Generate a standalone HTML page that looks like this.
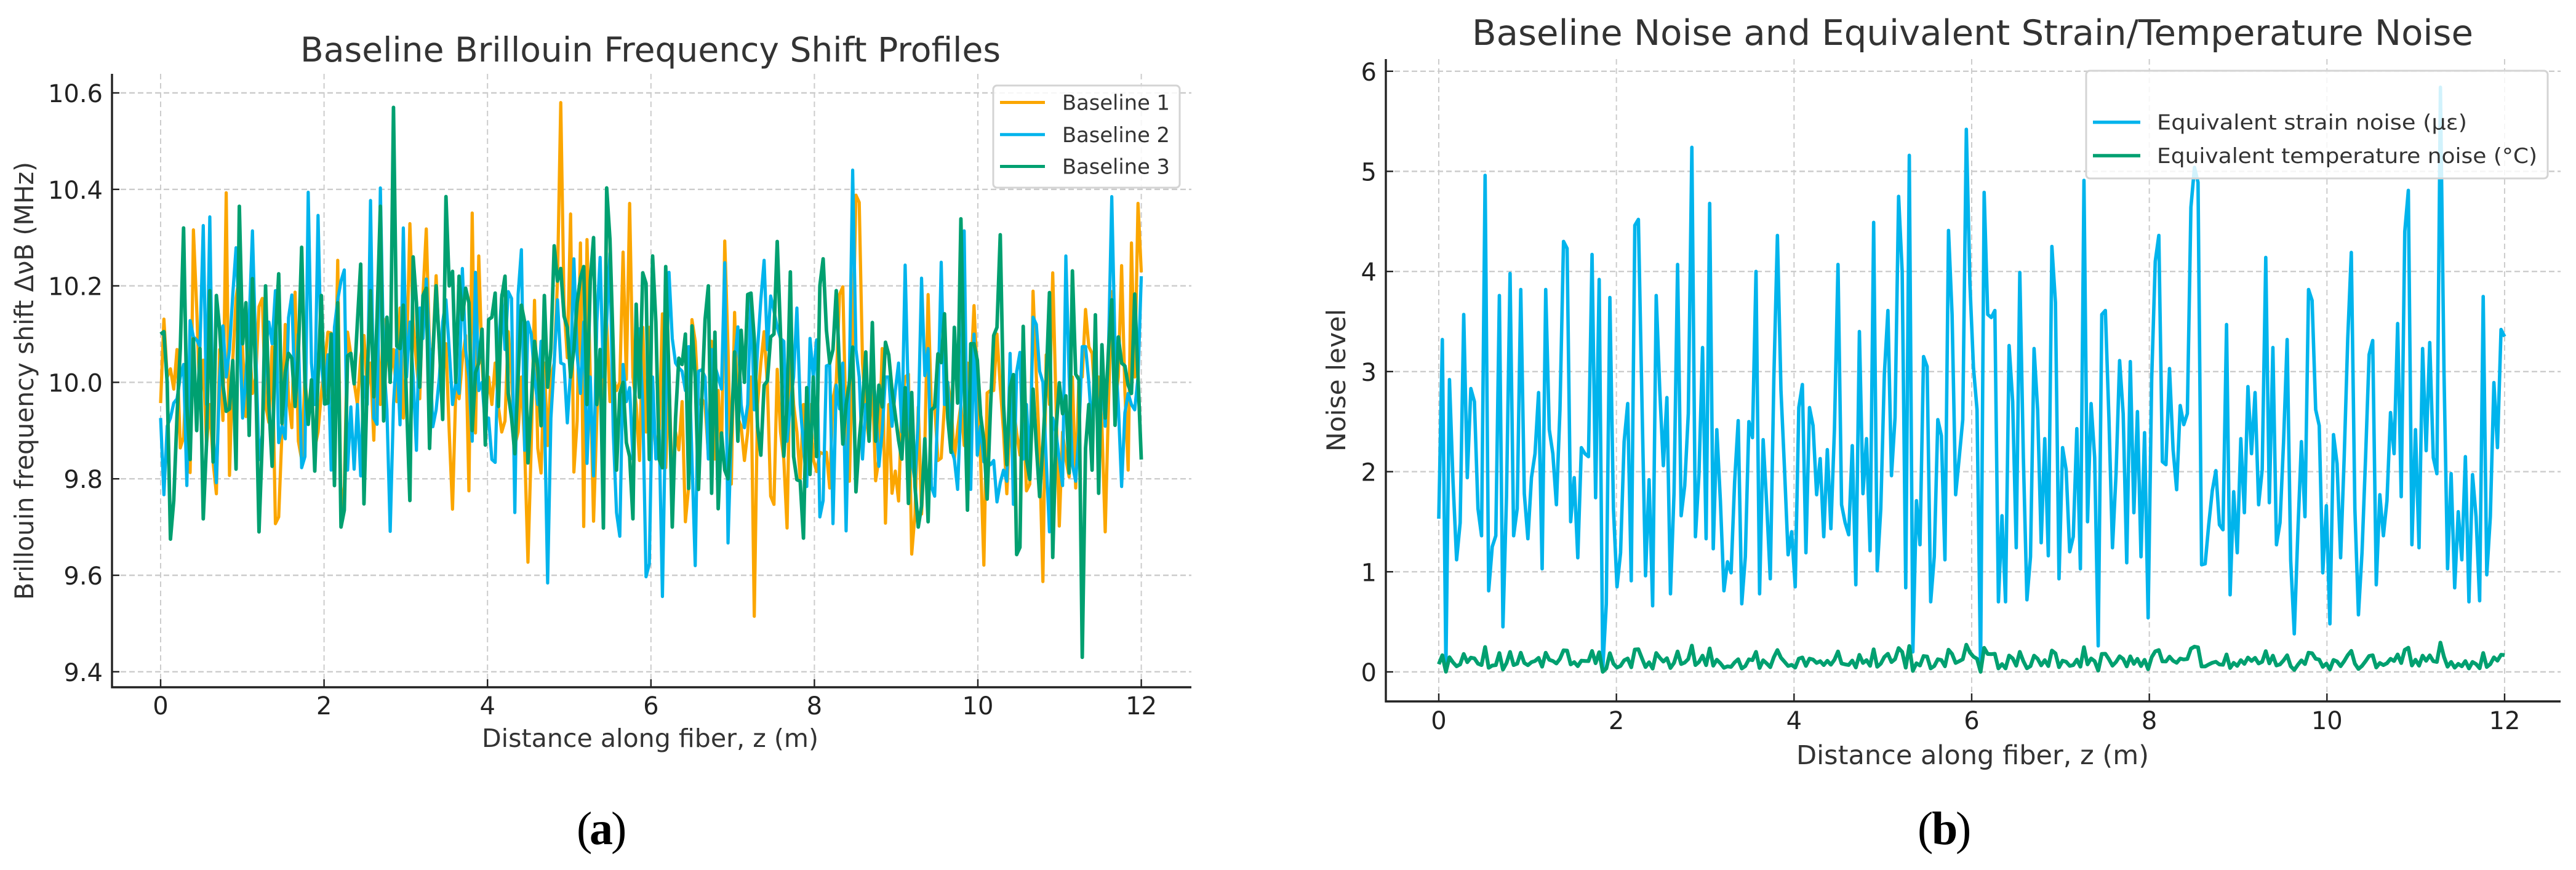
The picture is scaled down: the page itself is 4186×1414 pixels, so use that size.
<!DOCTYPE html>
<html>
<head>
<meta charset="utf-8">
<title>Baseline Brillouin Frequency Shift and Noise</title>
<style>
html,body{margin:0;padding:0;background:#fff;width:4186px;height:1414px;overflow:hidden}
svg{display:block;font-family:"DejaVu Sans","Liberation Sans",sans-serif}
</style>
</head>
<body>
<svg id="fig" xmlns="http://www.w3.org/2000/svg" width="4186" height="1414" viewBox="0 0 4186 1414"></svg>
<script>
const xTickValues = [0,2,4,6,8,10,12];
const xTickLabels = ["0","2","4","6","8","10","12"];
const yTickValuesA = [9.4,9.6,9.8,10.0,10.2,10.4,10.6];
const yTickLabelsA = ["9.4","9.6","9.8","10.0","10.2","10.4","10.6"];
const yTickValuesB = [0,1,2,3,4,5,6];
const yTickLabelsB = ["0","1","2","3","4","5","6"];
const distanceStart = 0;
const distanceEnd = 12;

const baseline1 = [
9.957,10.131,10.011,10.028,9.986,10.068,9.864,9.886,10.04,9.813,
10.316,10.154,9.954,10.046,9.869,9.954,9.835,9.769,10.068,9.921,
10.393,9.807,10.046,10.174,10.222,10.068,9.929,10.091,9.977,10.011,
10.157,10.174,9.954,9.917,10.074,9.707,9.721,9.897,10.12,9.966,
9.906,10.187,9.878,9.84,10.011,9.926,9.983,9.864,9.897,9.977,
10.04,10.104,10.102,9.897,10.253,9.727,9.784,10.104,10.057,10.0,
9.954,10.051,10.097,9.983,10.04,9.88,10.137,9.954,10.131,10.068,
10.011,10.068,9.96,10.154,9.926,10.046,10.329,10.125,10.04,9.966,
10.182,10.318,10.068,10.068,10.221,10.068,10.04,10.08,9.897,9.737,
9.986,9.966,10.046,10.097,9.775,10.351,9.895,10.262,10.04,9.926,
10.011,9.954,10.04,9.949,9.897,9.92,10.105,10.011,9.869,9.897,
10.011,9.863,9.627,9.869,10.17,9.863,9.812,10.04,9.869,10.011,
10.04,10.21,10.58,10.16,10.051,10.349,9.814,9.92,10.289,9.701,
10.296,10.011,9.712,9.926,10.068,9.954,10.125,9.96,10.011,9.983,
10.0,10.27,10.006,10.371,10.011,9.954,9.838,10.114,9.897,10.114,
9.926,9.86,9.9,10.142,9.823,10.011,9.784,9.897,9.86,9.96,
9.711,9.784,10.13,10.085,9.954,9.966,9.954,9.849,10.085,9.841,
9.983,9.841,10.293,10.068,9.789,10.145,9.926,9.909,9.838,9.897,
10.011,9.515,9.954,10.04,10.105,9.994,9.764,9.747,10.027,9.897,
9.841,9.698,10.068,9.954,9.897,9.8,9.954,9.841,9.954,9.841,
9.815,9.855,9.852,9.855,9.781,9.966,10.0,10.182,10.198,9.897,
9.795,10.068,10.388,10.373,10.04,9.935,9.878,10.011,9.796,9.841,
10.07,9.708,9.954,9.77,9.816,9.754,9.954,10.011,10.017,9.644,
9.727,9.949,9.727,9.869,10.182,9.943,9.954,9.838,9.843,9.954,
10.0,9.954,9.841,9.903,9.954,9.869,10.04,10.011,10.159,10.011,
9.841,9.621,9.978,9.983,9.983,10.1,9.992,9.897,9.769,9.926,
9.954,9.895,9.849,9.954,9.775,9.789,10.189,10.011,9.852,9.587,
10.057,9.954,10.227,9.954,9.702,9.897,9.841,9.804,10.011,9.781,
10.011,10.011,10.151,10.074,10.06,9.954,10.011,9.909,9.69,9.954,
10.188,9.954,10.011,10.242,9.983,9.818,10.289,10.011,10.371,10.228];

const baseline2 = [
9.926,9.767,9.909,9.926,9.957,9.966,10.011,10.037,9.786,10.128,
10.094,10.088,10.074,10.325,9.954,10.343,9.897,9.792,10.011,10.117,
10.011,10.068,10.182,10.279,10.125,9.926,10.011,10.125,10.314,10.068,
9.84,9.892,10.068,10.125,10.08,10.19,9.875,9.909,9.883,10.134,
10.181,9.954,10.10,9.823,9.846,10.394,10.04,9.954,10.346,10.04,
9.966,10.057,9.818,10.114,10.171,10.21,10.233,9.818,9.949,9.82,
9.954,9.806,10.011,9.954,10.377,9.926,9.913,10.403,10.046,9.943,
9.691,9.954,10.068,9.912,10.32,10.011,10.125,10.011,9.859,10.154,
10.091,10.214,10.068,9.908,9.943,10.011,10.125,10.171,10.068,9.954,
10.0,9.977,10.236,10.068,10.011,9.878,10.228,9.983,10.0,9.909,
9.926,9.84,9.834,10.068,10.182,10.068,10.188,10.174,9.73,10.182,
10.275,9.859,10.125,10.10,10.011,9.954,10.085,9.954,9.584,9.926,
10.04,10.171,10.04,10.037,9.916,10.023,10.256,10.057,9.977,10.125,
9.832,10.011,9.806,10.125,10.259,10.011,10.125,10.268,9.897,9.73,
9.681,10.037,9.96,9.989,9.841,10.04,10.111,9.954,9.597,9.624,
10.011,9.841,9.9,9.556,9.95,10.228,10.091,10.04,10.03,10.023,
9.983,10.074,9.841,9.62,10.023,10.026,10.011,9.841,10.068,10.034,
10.011,9.986,10.248,9.667,9.897,10.04,10.115,9.954,9.906,9.954,
10.185,9.943,10.068,10.171,10.253,10.068,10.179,10.148,10.114,10.091,
10.085,9.878,9.954,10.011,10.154,9.954,9.869,9.784,10.091,10.011,
10.088,9.721,9.755,10.034,10.037,9.707,9.994,9.945,10.04,9.692,
10.011,10.44,10.068,10.011,9.841,9.954,9.926,10.04,9.954,9.826,
9.897,10.011,10.011,9.909,9.983,10.04,9.897,10.243,9.954,9.841,
9.795,9.92,10.216,10.014,10.07,9.784,9.764,9.954,10.249,9.954,
10.0,9.863,9.841,9.778,9.954,10.314,9.806,9.778,10.1,9.849,
9.909,9.835,9.841,9.829,9.838,9.752,9.792,9.818,9.795,10.06,
9.747,10.022,10.062,9.841,9.954,9.812,10.135,10.12,10.023,10.0,
9.841,9.69,9.926,9.897,9.841,9.786,10.262,10.011,9.829,9.795,
9.897,10.074,10.074,10.0,9.897,10.011,9.909,10.011,9.909,10.068,
10.385,10.068,9.954,9.784,9.937,9.977,9.954,9.943,10.011,10.22];

const baseline3 = [
10.10,10.105,10.0,9.675,9.755,9.93,10.07,10.32,9.95,9.84,
10.09,9.9,10.07,9.717,9.875,10.19,9.835,10.18,10.11,9.995,
9.94,9.945,10.045,9.82,10.365,10.08,10.165,9.89,10.215,10.01,
9.69,9.88,10.2,9.955,9.826,10.09,10.225,9.915,10.02,10.06,
10.05,9.95,10.06,10.28,10.0,9.913,10.005,9.816,10.01,10.18,
9.955,9.957,10.1,9.786,10.165,9.7,9.735,10.055,10.06,9.997,
10.125,10.245,9.748,10.01,10.19,9.97,10.135,10.365,9.92,10.135,
10.0,10.57,10.075,10.07,10.16,9.955,9.755,10.26,10.165,9.99,
10.18,10.195,9.863,10.055,10.2,10.075,9.923,10.385,10.2,10.23,
10.0,10.22,10.13,10.195,10.165,9.9,10.02,10.04,10.11,9.87,
10.13,10.135,10.185,9.95,10.175,10.22,9.977,9.926,9.852,10.01,
10.16,10.125,9.833,9.955,10.085,10.03,9.91,10.18,9.99,10.07,
10.283,10.21,10.236,10.137,10.114,10.011,10.068,10.165,10.216,10.24,
9.954,10.21,10.30,9.954,10.068,9.698,10.403,10.296,10.068,9.818,
9.977,10.0,9.875,9.846,9.717,10.162,9.969,10.227,10.205,9.84,
10.262,10.125,9.84,9.823,10.24,10.01,9.70,9.926,10.05,10.037,
10.10,9.78,10.117,10.01,9.778,9.966,10.13,10.20,9.77,10.104,
9.738,9.895,9.818,9.80,9.897,10.063,9.878,10.108,10.0,10.182,
10.185,10.09,9.909,9.849,9.994,10.003,10.094,10.10,10.292,10.10,
9.847,9.954,10.229,9.846,9.798,9.795,9.677,9.989,9.809,10.011,
9.846,10.2,10.256,10.108,10.04,10.068,10.19,10.023,9.872,9.954,
10.0,10.073,9.773,9.88,9.954,10.063,9.878,10.124,9.878,9.994,
9.949,10.083,10.057,9.983,9.932,9.88,9.841,9.989,9.749,9.979,
9.784,9.70,9.744,9.883,9.711,9.943,9.949,10.059,10.041,10.142,
9.926,9.855,10.114,9.957,10.339,10.011,9.735,10.08,10.08,10.046,
9.932,9.88,9.758,9.943,10.097,10.114,10.306,9.954,9.829,9.989,
10.016,9.643,9.658,10.116,9.841,9.799,9.986,9.869,9.763,9.869,
10.0,10.186,9.637,9.897,9.999,9.935,9.972,9.812,10.231,10.017,
10.005,9.43,9.863,9.954,9.818,10.14,9.77,10.078,9.926,10.068,
10.171,9.911,10.094,10.04,10.034,9.994,9.977,10.183,10.011,9.84];

const strainNoise = [
1.53,3.32,0.04,2.92,1.9,1.12,1.49,3.57,1.94,2.83,
2.7,1.63,1.36,4.96,0.81,1.25,1.36,3.76,0.45,1.75,
3.98,1.36,1.63,3.82,1.78,1.33,1.94,2.18,2.79,1.03,
3.82,2.42,2.18,1.67,2.62,4.3,4.23,1.5,1.94,1.14,
2.24,2.18,2.15,4.17,1.74,3.92,0.02,0.68,3.74,1.63,
0.85,1.19,2.3,2.68,0.91,4.46,4.52,2.7,0.96,1.92,
0.66,3.76,2.81,2.06,2.74,0.78,1.79,4.07,1.56,1.86,
2.58,5.24,1.35,1.98,3.24,1.33,4.68,1.23,2.42,1.71,
0.81,1.10,0.99,1.9,2.51,0.68,1.15,2.5,2.34,4.0,
0.78,2.32,1.67,0.93,2.93,4.36,2.81,2.02,1.17,1.4,
0.85,2.64,2.87,1.19,2.64,2.46,1.77,2.13,1.35,2.22,
1.43,2.42,4.07,1.67,1.49,1.37,2.26,0.87,3.4,1.78,
2.33,1.21,4.49,1.01,1.63,2.97,3.61,1.96,2.54,4.75,
4.0,0.84,5.16,0.2,1.71,1.27,3.15,3.05,0.7,1.15,
2.52,2.36,1.12,4.41,3.57,1.77,2.14,2.52,5.42,3.88,
3.04,2.62,0.02,4.79,3.57,3.54,3.61,0.7,1.56,0.7,
3.26,2.7,1.24,3.99,2.14,0.72,1.15,3.23,2.62,1.29,
2.33,1.16,4.25,3.69,0.93,2.24,2.02,1.2,1.35,2.43,
1.03,4.91,1.5,2.68,2.14,0.26,3.57,3.61,2.54,1.24,
1.98,3.11,2.58,1.09,3.1,1.59,2.6,1.15,2.39,0.54,
2.93,4.1,4.36,2.1,2.07,3.03,2.22,1.82,2.66,2.47,
2.58,4.64,5.04,4.89,1.07,1.08,1.47,1.81,2.01,1.47,
1.42,3.47,0.77,1.8,1.19,2.33,1.59,2.85,2.18,2.79,
1.67,2.02,4.14,1.69,3.24,1.27,1.49,2.3,3.32,1.11,
0.38,1.39,2.3,1.55,3.82,3.71,2.62,2.46,0.99,1.66,
0.48,2.37,2.08,1.14,2.14,3.33,4.19,1.63,0.57,1.19,
2.14,3.17,3.31,0.87,1.77,1.36,1.71,2.59,2.18,3.48,
1.75,4.4,4.81,1.27,2.42,1.24,3.23,2.21,3.29,2.14,
1.98,5.84,3.0,1.03,1.98,0.84,1.6,1.12,2.15,0.7,
1.97,1.55,0.71,3.75,0.97,1.55,2.89,2.24,3.42,3.35];

const temperatureNoise = [
0.077,0.166,0.002,0.146,0.095,0.056,0.075,0.179,0.097,0.142,
0.135,0.082,0.068,0.248,0.041,0.063,0.068,0.188,0.023,0.088,
0.199,0.068,0.082,0.191,0.089,0.067,0.097,0.109,0.14,0.052,
0.191,0.121,0.109,0.084,0.131,0.215,0.212,0.075,0.097,0.057,
0.112,0.109,0.108,0.209,0.087,0.196,0.001,0.034,0.187,0.082,
0.043,0.06,0.115,0.134,0.046,0.223,0.226,0.135,0.048,0.096,
0.033,0.188,0.141,0.103,0.137,0.039,0.09,0.204,0.078,0.093,
0.129,0.262,0.068,0.099,0.162,0.067,0.234,0.062,0.121,0.086,
0.041,0.055,0.05,0.095,0.126,0.034,0.058,0.125,0.117,0.2,
0.039,0.116,0.084,0.047,0.147,0.218,0.141,0.101,0.059,0.07,
0.043,0.132,0.144,0.06,0.132,0.123,0.089,0.107,0.068,0.111,
0.072,0.121,0.204,0.084,0.075,0.069,0.113,0.044,0.17,0.089,
0.117,0.061,0.225,0.051,0.082,0.149,0.181,0.098,0.127,0.238,
0.2,0.042,0.258,0.01,0.086,0.064,0.158,0.153,0.035,0.058,
0.126,0.118,0.056,0.221,0.179,0.089,0.107,0.126,0.271,0.194,
0.152,0.131,0.001,0.24,0.179,0.177,0.181,0.035,0.078,0.035,
0.163,0.135,0.062,0.2,0.107,0.036,0.058,0.162,0.131,0.065,
0.117,0.058,0.213,0.185,0.047,0.112,0.101,0.06,0.068,0.122,
0.052,0.246,0.075,0.134,0.107,0.013,0.179,0.181,0.127,0.062,
0.099,0.156,0.129,0.055,0.155,0.08,0.13,0.058,0.12,0.027,
0.147,0.205,0.218,0.105,0.104,0.152,0.111,0.091,0.133,0.124,
0.129,0.232,0.252,0.245,0.054,0.054,0.074,0.091,0.101,0.074,
0.071,0.174,0.039,0.09,0.06,0.117,0.08,0.143,0.109,0.14,
0.084,0.101,0.207,0.085,0.162,0.064,0.075,0.115,0.166,0.056,
0.019,0.07,0.115,0.078,0.191,0.186,0.131,0.123,0.05,0.083,
0.024,0.119,0.104,0.057,0.107,0.167,0.21,0.082,0.029,0.06,
0.107,0.159,0.166,0.044,0.089,0.068,0.086,0.13,0.109,0.174,
0.088,0.22,0.241,0.064,0.121,0.062,0.162,0.111,0.165,0.107,
0.099,0.292,0.15,0.052,0.099,0.042,0.08,0.056,0.108,0.035,
0.099,0.078,0.036,0.188,0.049,0.078,0.145,0.112,0.171,0.168];

const SVGNS = "http://www.w3.org/2000/svg";
const fig = document.getElementById("fig");
const ORANGE = "#FBA600", BLUE = "#00B4EC", GREEN = "#00A070";

function make(tag, parent, attrs, text) {
  const e = document.createElementNS(SVGNS, tag);
  for (const k in attrs) e.setAttribute(k, attrs[k]);
  if (text !== undefined) e.textContent = text;
  parent.appendChild(e);
  return e;
}

// axis functions
const xA = v => 261 + 132.8 * v;
const yA = v => 621.4 - (v - 10) * 784;
const xB = v => 2338 + 144.33 * v;
const yB = v => 1092 - 162.7 * v;

function drawGridAndTicks(panel, g, o) {
  o.xTicks.forEach((t, i) => {
    const gl = make("line", g, {x1:o.x(t), x2:o.x(t), y1:o.top, y2:o.bottom, stroke:"#cccccc", "stroke-width":2, "stroke-dasharray":"9 6"});
    
    
  });
  o.yTicks.forEach((t, i) => {
    const gl = make("line", g, {x1:o.left, x2:o.right, y1:o.y(t), y2:o.y(t), stroke:"#cccccc", "stroke-width":2.4, "stroke-dasharray":"9 5"});
    
    
  });
}

function drawAxes(panel, g, o) {
  const sl = make("line", g, {x1:o.left, x2:o.left, y1:o.top, y2:o.bottom + 1.5, stroke:"#222", "stroke-width":3.4});
  
  
  const sb = make("line", g, {x1:o.left - 1.5, x2:o.right, y1:o.bottom, y2:o.bottom, stroke:"#222", "stroke-width":3.4});
  
  
  o.xTicks.forEach((t, i) => {
    const m = make("line", g, {x1:o.x(t), x2:o.x(t), y1:o.bottom, y2:o.bottom - 13, stroke:"#222", "stroke-width":2.4});
    
    
    const l = make("text", g, {x:o.x(t), y:o.xLabelY, "text-anchor":"middle", "font-size":40, fill:"#222"}, o.xLabels[i]);
    
    
  });
  o.yTicks.forEach((t, i) => {
    const m = make("line", g, {x1:o.left, x2:o.left + 12, y1:o.y(t), y2:o.y(t), stroke:"#222", "stroke-width":2.4});
    
    
    const l = make("text", g, {x:o.yLabelX, y:o.y(t) + 15, "text-anchor":"end", "font-size":40, fill:"#222"}, o.yLabels[i]);
    
    
  });
}

function drawSeries(g, values, xf, yf, color, width, name) {
  const n = values.length;
  const pts = values.map((v, i) => {
    const d = distanceStart + (distanceEnd - distanceStart) * i / (n - 1);
    return xf(d).toFixed(2) + "," + yf(v).toFixed(2);
  }).join(" ");
  const p = make("polyline", g, {points:pts, fill:"none", stroke:color, "stroke-width":width, "stroke-linejoin":"round", "stroke-linecap":"butt"});
  
  
}

function drawText(g, str, attrs, name) {
  const t = make("text", g, attrs, str);
  
  
  return t;
}

function drawLegendFrame(g, x, y, w, h, name) {
  const r = make("rect", g, {x:x, y:y, width:w, height:h, rx:6, ry:6, fill:"#ffffff", "fill-opacity":0.82, stroke:"#d4d4d4", "stroke-width":3});
  
  
}

function drawLegendEntry(g, x1, x2, tx, ty, color, width, label, textW, name) {
  const ln = make("line", g, {x1:x1, x2:x2, y1:ty, y2:ty, stroke:color, "stroke-width":width});
  
  
  const t = make("text", g, {x:tx, y:ty + 12, "font-size":34, fill:"#333", textLength:textW, lengthAdjust:"spacingAndGlyphs"}, label);
  
  
}

// Panel A
const gA = make("g", fig, {});


const optA = {x:xA, y:yA, left:182, right:1936, top:120, bottom:1117, xTicks:xTickValues, yTicks:yTickValuesA, xLabels:xTickLabels, yLabels:yTickLabelsA, xLabelY:1161, yLabelX:167};
drawGridAndTicks("chart-a", gA, optA);
drawSeries(gA, baseline1, xA, yA, ORANGE, 5.2, "series-baseline-1");
drawSeries(gA, baseline2, xA, yA, BLUE, 5.2, "series-baseline-2");
drawSeries(gA, baseline3, xA, yA, GREEN, 5.8, "series-baseline-3");
drawAxes("chart-a", gA, optA);
drawText(gA, "Baseline Brillouin Frequency Shift Profiles", {x:488, y:100, "font-size":55, fill:"#333", textLength:1138, lengthAdjust:"spacingAndGlyphs"}, "chart-a-title");
drawText(gA, "Distance along fiber, z (m)", {x:783, y:1214, "font-size":41, fill:"#333", textLength:547, lengthAdjust:"spacingAndGlyphs"}, "chart-a-x-axis-title");
drawText(gA, "Brillouin frequency shift ΔνB (MHz)", {x:0, y:0, "font-size":42, fill:"#333", textLength:712, lengthAdjust:"spacingAndGlyphs", transform:"translate(54,975) rotate(-90)"}, "chart-a-y-axis-title");
const legA = make("g", gA, {});


drawLegendFrame(legA, 1614, 139, 303, 166, "chart-a-legend-frame");
drawLegendEntry(legA, 1625, 1698, 1726, 166.5, ORANGE, 5, "Baseline 1", 175, "legend-entry-baseline-1");
drawLegendEntry(legA, 1625, 1698, 1726, 218.8, BLUE, 5, "Baseline 2", 175, "legend-entry-baseline-2");
drawLegendEntry(legA, 1625, 1698, 1726, 270.5, GREEN, 5, "Baseline 3", 175, "legend-entry-baseline-3");
drawText(gA, "(", {x:937, y:1372, "font-family":"'Liberation Serif',serif", "font-size":76, fill:"#000"}, "chart-a-caption-open");
drawText(gA, "a", {x:958, y:1372, "font-family":"'Liberation Serif',serif", "font-size":76, "font-weight":"bold", fill:"#000"}, "chart-a-caption-letter");
drawText(gA, ")", {x:993, y:1372, "font-family":"'Liberation Serif',serif", "font-size":76, fill:"#000"}, "chart-a-caption-close");

// Panel B
const gB = make("g", fig, {});


const optB = {x:xB, y:yB, left:2252, right:4161, top:96, bottom:1140, xTicks:xTickValues, yTicks:yTickValuesB, xLabels:xTickLabels, yLabels:yTickLabelsB, xLabelY:1185, yLabelX:2237};
drawGridAndTicks("chart-b", gB, optB);
drawSeries(gB, strainNoise, xB, yB, BLUE, 5.6, "series-strain-noise");
drawSeries(gB, temperatureNoise, xB, yB, GREEN, 6.2, "series-temperature-noise");
drawAxes("chart-b", gB, optB);
drawText(gB, "Baseline Noise and Equivalent Strain/Temperature Noise", {x:2392, y:73, "font-size":57, fill:"#333", textLength:1627, lengthAdjust:"spacingAndGlyphs"}, "chart-b-title");
drawText(gB, "Distance along fiber, z (m)", {x:2919, y:1242, "font-size":43, fill:"#333", textLength:573, lengthAdjust:"spacingAndGlyphs"}, "chart-b-x-axis-title");
drawText(gB, "Noise level", {x:0, y:0, "font-size":42, fill:"#333", textLength:232, lengthAdjust:"spacingAndGlyphs", transform:"translate(2186,734) rotate(-90)"}, "chart-b-y-axis-title");
const legB = make("g", gB, {});


drawLegendFrame(legB, 3390, 115, 750, 175, "chart-b-legend-frame");
drawLegendEntry(legB, 3401, 3478, 3505, 198.7, BLUE, 5.4, "Equivalent strain noise (με)", 504, "legend-entry-strain-noise");
drawLegendEntry(legB, 3401, 3478, 3505, 253, GREEN, 5.6, "Equivalent temperature noise (°C)", 618, "legend-entry-temperature-noise");
drawText(gB, "(", {x:3116, y:1372, "font-family":"'Liberation Serif',serif", "font-size":76, fill:"#000"}, "chart-b-caption-open");
drawText(gB, "b", {x:3139, y:1372, "font-family":"'Liberation Serif',serif", "font-size":76, "font-weight":"bold", fill:"#000"}, "chart-b-caption-letter");
drawText(gB, ")", {x:3178, y:1372, "font-family":"'Liberation Serif',serif", "font-size":76, fill:"#000"}, "chart-b-caption-close");
</script>
</body>
</html>
